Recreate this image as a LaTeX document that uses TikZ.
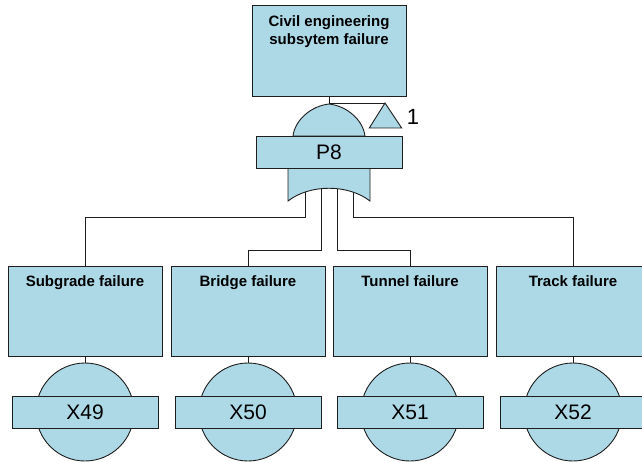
\documentclass[tikz,border=0pt]{standalone}
\usepackage{fontspec}
\setmainfont{Liberation Sans}
\definecolor{ftblue}{RGB}{173,216,230}
\definecolor{linec}{RGB}{30,30,30}
\begin{document}
\begin{tikzpicture}[x=1pt,y=-1pt,
  evbox/.style={draw=linec, fill=ftblue, line width=0.9pt, minimum width=154pt, minimum height=90pt, inner sep=0pt},
  evtitle/.style={font=\fontsize{15}{18}\selectfont\bfseries, align=center, anchor=base, inner sep=0pt},
  tagbox/.style={draw=linec, fill=ftblue, line width=0.9pt, minimum width=146pt, minimum height=32pt, inner sep=0pt, font=\fontsize{21}{24}\selectfont},
  basic/.style={circle, draw=linec, fill=ftblue, line width=0.9pt, minimum size=98pt, inner sep=0pt},
  gateshape/.style={draw=linec, fill=ftblue, line width=0.9pt},
  wire/.style={draw=linec, line width=0.9pt}]
\useasboundingbox (0,0) rectangle (642,462);

% top event
\node[evbox, minimum height=91pt] (top) at (329,50.5) {};
\node[evtitle, anchor=north] (toptxt) at (329,15) {Civil engineering\\subsytem failure};

% gate reference points
\coordinate (apex) at (329,104);
\coordinate (tk) at (329,103);
\coordinate (o1) at (305,186);
\coordinate (o2) at (321,184);
\coordinate (o3) at (337,184);
\coordinate (o4) at (353,186);
\coordinate (k1) at (305,217);
\coordinate (k2) at (321,250);
\coordinate (k3) at (337,250);
\coordinate (k4) at (353,217);

% transfer triangle
\coordinate (tri) at (385,103);
\draw[wire] (top.south) -- (apex);
\draw[wire] (tk) -- (tri);
\draw[gateshape] (tri) -- (401.7,128) -- (369.3,128) -- cycle;
\node[font=\fontsize{22}{24}\selectfont, inner sep=0pt] (xref) at (413,117) {1};

% basic events
\foreach \cx/\nm/\lbl/\code in {85/sub/Subgrade failure/X49, 248/bri/Bridge failure/X50, 410/tun/Tunnel failure/X51, 573/trk/Track failure/X52}{
  \node[evbox] (\nm) at (\cx,311) {};
  \node[evtitle] (\nm txt) at (\cx,286) {\lbl};
  \node[basic] (\nm c) at (\cx,412) {};
  \node[tagbox] (\nm tag) at (\cx,412) {\code};
  \draw[wire] (\nm.south) -- (\nm c.north);
}

% connectors from the gate to the events
\draw[wire] (o1) -- (k1) -| (sub.north);
\draw[wire] (o2) -- (k2) -| (bri.north);
\draw[wire] (o3) -- (k3) -| (tun.north);
\draw[wire] (o4) -- (k4) -| (trk.north);

% OR gate body
\draw[gateshape] (293,136) .. controls (295,120) and (311,106) .. (apex)
  .. controls (347,106) and (363,120) .. (365,136) -- cycle;
\draw[gateshape] (288,168) -- (288,201) .. controls (310,184) and (348,184) .. (370,201) -- (370,168) -- cycle;
\node[tagbox] (p8) at (329,152) {P8};
\end{tikzpicture}
\end{document}
